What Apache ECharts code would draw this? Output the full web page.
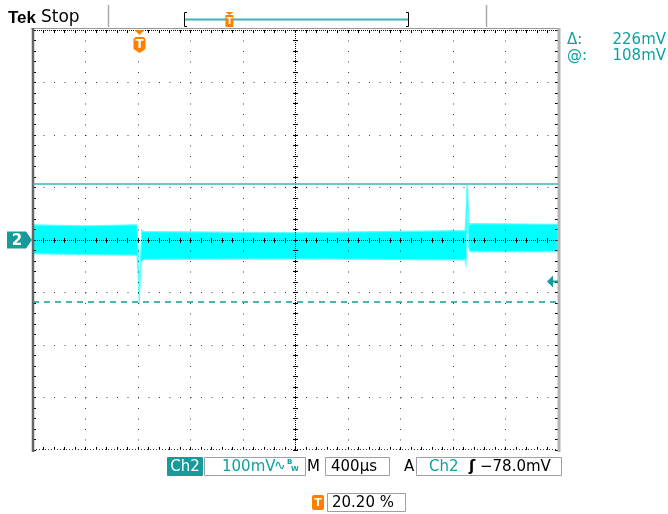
<!DOCTYPE html>
<html><head><meta charset="utf-8">
<script src="https://cdn.jsdelivr.net/npm/echarts@6/dist/echarts.min.js"></script>
<style>html,body{margin:0;padding:0;background:#fff}#c{width:668px;height:514px}</style>
</head><body><div id="c"></div>
<script>
// ---- Data (time in µs relative to screen centre, voltage in mV) ----
const X_MIN = -2000, X_MAX = 2000, X_DIV = 400;   // 400 µs/div, 10 div
const Y_MIN = -400, Y_MAX = 400, Y_DIV = 100;     // 100 mV/div, 8 div
// upper edge of the noisy CH2 trace envelope
const upperT = [-2000, -1600, -1208, -1202, -1194, -1187, -1180, -1172, -1164, -1154, 0, 1291, 1298, 1304, 1310, 1317, 1322, 1330, 2000];
const upperV = [29, 27, 29, 0, -60, -95, -30, 19, 17, 16, 14, 18, 40, 95, 106, 60, 28, 31, 30];
// lower edge of the envelope
const lowerT = [-2000, -1600, -1208, -1200, -1190, -1184, -1176, -1154, 0, 1291, 1299, 1304, 1310, 1315, 1320, 1330, 2000];
const lowerV = [-26, -28, -29, -60, -123, -80, -42, -37, -36, -38, -47, -10, 55, 20, -15, -22, -22];
// cursors and trigger
const cursorAt = 108, cursorDelta = 226;
const triggerLevel = -78.0;
const triggerPct = 20.20;
const triggerT = X_MIN + (X_MAX - X_MIN) * triggerPct / 100;

const TEAL = '#169a9a', TEXT_TEAL = '#10a0a0', CURSOR = '#3cb4b4', ORANGE = '#ff7f00';
const FONT = "'DejaVu Sans', sans-serif";

const chart = echarts.init(document.getElementById('c'), null, {renderer: 'canvas'});

function px(v){ return Math.round(v - 0.5) + 0.5; }

function graticule(params, api){
  const ch = [];
  const tl = api.coord([X_MIN, Y_MAX]), br = api.coord([X_MAX, Y_MIN]);
  const x0 = tl[0], y0 = tl[1], x1 = br[0], y1 = br[1];
  const cx = px(api.coord([0, 0])[0]), cy = px(api.coord([0, 0])[1]);
  const dot = {stroke: 'rgba(0,0,0,0.75)', lineWidth: 1, lineDash: [1, (y1 - y0) / 40 - 1]};
  for (let t = X_MIN + X_DIV; t < X_MAX; t += X_DIV) {
    if (t === 0) continue;
    const x = px(api.coord([t, 0])[0]);
    ch.push({type: 'line', shape: {x1: x, y1: y0, x2: x, y2: y1}, style: dot});
  }
  for (let v = Y_MIN + Y_DIV; v < Y_MAX; v += Y_DIV) {
    if (v === 0) continue;
    const y = px(api.coord([0, v])[1]);
    ch.push({type: 'line', shape: {x1: x0, y1: y, x2: x1, y2: y}, style: Object.assign({}, dot, {lineDash: [1, (x1 - x0) / 50 - 1]})});
  }
  // centre cross
  const dense = {stroke: '#000', lineWidth: 1, lineDash: [1, 1]};
  ch.push({type: 'line', shape: {x1: x0, y1: cy, x2: x1, y2: cy}, style: dense});
  ch.push({type: 'line', shape: {x1: cx, y1: y0, x2: cx, y2: y1}, style: dense});
  // minor ticks (5 per division)
  const tk = {stroke: '#000', lineWidth: 1};
  for (let t = X_MIN; t <= X_MAX; t += X_DIV / 5) {
    const x = px(api.coord([t, 0])[0]);
    ch.push({type: 'line', shape: {x1: x, y1: cy - 2.5, x2: x, y2: cy + 2.5}, style: tk});
    ch.push({type: 'line', shape: {x1: x, y1: y0, x2: x, y2: y0 + 3}, style: tk});
    ch.push({type: 'line', shape: {x1: x, y1: y1, x2: x, y2: y1 - 3}, style: tk});
  }
  for (let v = Y_MIN; v <= Y_MAX; v += Y_DIV / 5) {
    const y = px(api.coord([0, v])[1]);
    ch.push({type: 'line', shape: {x1: cx - 2.5, y1: y, x2: cx + 2.5, y2: y}, style: tk});
    ch.push({type: 'line', shape: {x1: x0, y1: y, x2: x0 + 3, y2: y}, style: tk});
    ch.push({type: 'line', shape: {x1: x1, y1: y, x2: x1 - 3, y2: y}, style: tk});
  }
  // frame
  ch.push({type: 'line', shape: {x1: x0 - 2, y1: y0 - 1.5, x2: x1 + 2, y2: y0 - 1.5}, style: {stroke: '#999', lineWidth: 1}});
  ch.push({type: 'line', shape: {x1: x0, y1: y0 + 0.5, x2: x1, y2: y0 + 0.5}, style: dense});
  ch.push({type: 'line', shape: {x1: x0, y1: y1 - 0.5, x2: x1, y2: y1 - 0.5}, style: {stroke: '#333', lineWidth: 1, lineDash: [1, 2]}});
  ch.push({type: 'line', shape: {x1: x0, y1: y0 - 2, x2: x0, y2: y1 + 2}, style: {stroke: '#666', lineWidth: 2.5}});
  ch.push({type: 'line', shape: {x1: x1 + 1, y1: y0 - 2, x2: x1 + 1, y2: y1 + 2}, style: {stroke: '#b4b4b4', lineWidth: 3}});
  return {type: 'group', children: ch};
}

function envelope(params, api){
  const pts = [];
  for (let i = 0; i < upperT.length; i++) pts.push(api.coord([upperT[i], upperV[i]]));
  for (let i = lowerT.length - 1; i >= 0; i--) pts.push(api.coord([lowerT[i], lowerV[i]]));
  return {type: 'polygon', shape: {points: pts}, style: {fill: '#00ffff', stroke: '#60ffff', lineWidth: 1.2}};
}

function markers(params, api){
  const ch = [];
  // channel 2 ground marker
  const g = api.coord([X_MIN, 0]);
  const gx = g[0] - 1, gy = Math.round(g[1]);
  ch.push({type: 'polygon', shape: {points: [[gx - 25, gy - 8.5], [gx - 6, gy - 8.5], [gx, gy], [gx - 6, gy + 8.5], [gx - 25, gy + 8.5]]}, style: {fill: TEAL}});
  ch.push({type: 'text', style: {x: gx - 15, y: gy + 1, text: '2', fill: '#fff', font: 'bold 15px ' + FONT, align: 'center', verticalAlign: 'middle'}});
  // trigger level arrow
  const a = api.coord([X_MAX, triggerLevel]);
  const ax = a[0], ay = Math.round(a[1]) + 0.5;
  ch.push({type: 'polygon', shape: {points: [[ax - 11, ay], [ax - 5, ay - 6], [ax - 5, ay + 6]]}, style: {fill: TEAL}});
  ch.push({type: 'line', shape: {x1: ax - 6, y1: ay, x2: ax, y2: ay}, style: {stroke: TEAL, lineWidth: 2}});
  // trigger position marker
  const t = api.coord([triggerT, Y_MAX]);
  const tx = Math.round(t[0]) + 0.5, ty = t[1];
  ch.push({type: 'polygon', shape: {points: [[tx - 5, ty], [tx + 5, ty], [tx, ty + 5]]}, style: {fill: ORANGE}});
  ch.push({type: 'polygon', shape: {points: [[tx - 4, ty + 7], [tx + 4, ty + 7], [tx + 6, ty + 9], [tx + 6, ty + 19], [tx, ty + 23], [tx - 6, ty + 19], [tx - 6, ty + 9]]}, style: {fill: ORANGE}});
  ch.push({type: 'text', style: {x: tx, y: ty + 15, text: 'T', fill: '#fff', font: 'bold 12px ' + FONT, align: 'center', verticalAlign: 'middle'}});
  return {type: 'group', children: ch};
}

const t = (s, x, y, opt) => ({type: 'text', x: x, y: y, style: Object.assign({text: s, fill: '#000', font: '15px ' + FONT, verticalAlign: 'middle'}, opt || {})});
const box = (x, y, w, h, fill, stroke) => ({type: 'rect', shape: {x: x, y: y, width: w, height: h}, style: {fill: fill || '#fff', stroke: stroke || '#a0a0a0', lineWidth: 1}});

const recL = 184, recR = 409;
const recT = recL + (recR - recL) * triggerPct / 100;

const graphics = [
  // top status bar
  t('Tek', 8, 18, {font: "bold 17px 'Liberation Sans', sans-serif", fill: '#000'}),
  t('Stop', 41, 18, {font: "17px 'DejaVu Sans', sans-serif"}),
  {type: 'line', shape: {x1: 108.5, y1: 5, x2: 108.5, y2: 27}, style: {stroke: '#aaa', lineWidth: 1.5}},
  {type: 'line', shape: {x1: 486.5, y1: 5, x2: 486.5, y2: 27}, style: {stroke: '#aaa', lineWidth: 1.5}},
  {type: 'polyline', shape: {points: [[recL + 3, 12.5], [recL + 0.5, 12.5], [recL + 0.5, 26.5], [recL + 3, 26.5]]}, style: {stroke: '#000', lineWidth: 1, fill: null}},
  {type: 'polyline', shape: {points: [[recR - 3, 12.5], [recR - 0.5, 12.5], [recR - 0.5, 26.5], [recR - 3, 26.5]]}, style: {stroke: '#000', lineWidth: 1, fill: null}},
  {type: 'line', shape: {x1: recL + 1, y1: 19.5, x2: recR - 1, y2: 19.5}, style: {stroke: CURSOR, lineWidth: 2}},
  {type: 'polygon', shape: {points: [[recT - 4, 12], [recT + 4, 12], [recT, 15]]}, style: {fill: ORANGE}},
  {type: 'rect', shape: {x: recT - 4, y: 15, width: 8, height: 12, r: 1}, style: {fill: ORANGE}},
  t('T', recT, 21.5, {font: 'bold 9px ' + FONT, fill: '#fff', align: 'center'}),
  // cursor readouts
  t('\u0394:', 567, 40, {fill: TEXT_TEAL}),
  t(cursorDelta + 'mV', 666, 40, {fill: TEXT_TEAL, align: 'right'}),
  t('@:', 567, 56, {fill: TEXT_TEAL}),
  t(cursorAt + 'mV', 666, 56, {fill: TEXT_TEAL, align: 'right'}),
  // bottom readouts
  box(167.5, 457.5, 35, 18, TEAL, TEAL),
  t('Ch2', 185, 467, {fill: '#fff', align: 'center'}),
  box(204.5, 457.5, 101, 18),
  t('100mV', 222, 467, {fill: TEXT_TEAL}),
  t('\u223F', 274, 466, {fill: TEXT_TEAL, font: '14px ' + FONT}),
  t('B', 287, 462, {fill: TEXT_TEAL, font: 'bold 7px ' + FONT}),
  t('W', 291, 469, {fill: TEXT_TEAL, font: 'bold 7px ' + FONT}),
  t('M', 307, 467),
  box(325.5, 457.5, 64, 18),
  t('400\u00B5s', 331, 467),
  t('A', 404, 467),
  box(416.5, 457.5, 145, 18),
  t('Ch2', 429, 467, {fill: TEXT_TEAL}),
  t('\u0283', 469, 467, {font: 'bold 15px ' + FONT}),
  t('\u2212' + triggerLevel.toFixed(1).replace('-', '') + 'mV', 480, 467),
  {type: 'rect', shape: {x: 312, y: 495, width: 12, height: 15, r: 2}, style: {fill: ORANGE}},
  t('T', 318, 503, {fill: '#fff', font: 'bold 11px ' + FONT, align: 'center'}),
  box(327.5, 493.5, 78, 18),
  t(triggerPct.toFixed(2) + ' %', 332, 503)
];

chart.setOption({
  animation: false,
  backgroundColor: '#fff',
  grid: {left: 33, right: 110, top: 30, bottom: 64, show: false},
  xAxis: {type: 'value', min: X_MIN, max: X_MAX, interval: X_DIV, show: false},
  yAxis: {type: 'value', min: Y_MIN, max: Y_MAX, interval: Y_DIV, show: false},
  series: [
    {type: 'custom', name: 'CH2', renderItem: envelope, data: [[0, 0]], clip: true, z: 2, silent: true,
     markLine: {silent: true, symbol: 'none', label: {show: false}, animation: false,
       data: [
         {yAxis: cursorAt, lineStyle: {color: CURSOR, width: 1.5, type: 'solid'}},
         {yAxis: cursorAt - cursorDelta, lineStyle: {color: TEAL, width: 1.5, type: [6, 5]}}
       ]}},
    {type: 'custom', name: 'graticule', renderItem: graticule, data: [[0, 0]], clip: false, z: 3, silent: true},
    {type: 'custom', name: 'markers', renderItem: markers, data: [[0, 0]], clip: false, z: 4, silent: true}
  ],
  graphic: graphics
});
</script></body></html>
